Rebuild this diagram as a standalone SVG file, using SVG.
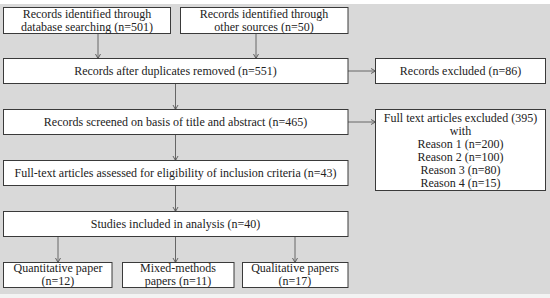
<svg xmlns="http://www.w3.org/2000/svg" width="550" height="298" viewBox="0 0 550 298">
<defs>
<marker id="ah" markerWidth="8" markerHeight="8" refX="5" refY="3" orient="auto" markerUnits="userSpaceOnUse">
<path d="M0.5,0.5 L5,3 L0.5,5.5" fill="none" stroke="#555" stroke-width="0.9"/>
</marker>
<style>
.box{fill:#fff;stroke:#3a3a3a;stroke-width:1}
.t{font-family:"Liberation Serif","Times New Roman",serif;font-size:12px;fill:#222;text-anchor:middle}
.c{stroke:#666;stroke-width:1;fill:none;marker-end:url(#ah)}
</style>
</defs>
<rect x="0" y="0" width="550" height="298" fill="#ffffff"/>
<rect x="0" y="294" width="550" height="4" fill="#f3f3f3"/>
<rect x="0" y="4" width="550" height="290" fill="#d9d9d9"/>

<g id="connectors">
<line class="c" x1="98" y1="33.5" x2="98" y2="58.5"/>
<line class="c" x1="256" y1="33.5" x2="256" y2="58.5"/>
<line class="c" x1="348" y1="71" x2="375.5" y2="71"/>
<line class="c" x1="175.5" y1="83.5" x2="175.5" y2="109.5"/>
<line class="c" x1="348" y1="122" x2="375.5" y2="122"/>
<line class="c" x1="175.5" y1="134.5" x2="175.5" y2="160.5"/>
<line class="c" x1="175.5" y1="185.5" x2="175.5" y2="211.5"/>
<line class="c" x1="58" y1="236.5" x2="58" y2="262.5"/>
<line class="c" x1="175.5" y1="236.5" x2="175.5" y2="262.5"/>
<line class="c" x1="295" y1="236.5" x2="295" y2="262.5"/>
</g>

<g id="db">
<rect class="box" x="3.5" y="7.5" width="167" height="26"/>
<text class="t" x="87" y="17.5">Records identified through</text>
<text class="t" x="87" y="30.5">database searching (n=501)</text>
</g>
<g id="other">
<rect class="box" x="180.5" y="7.5" width="167.5" height="26"/>
<text class="t" x="264" y="17.5">Records identified through</text>
<text class="t" x="264" y="30.5">other sources (n=50)</text>
</g>
<g id="dup">
<rect class="box" x="3.5" y="58.5" width="344.5" height="25"/>
<text class="t" x="175.5" y="75">Records after duplicates removed (n=551)</text>
</g>
<g id="excl1">
<rect class="box" x="375.5" y="58.5" width="170" height="25"/>
<text class="t" x="460.5" y="75">Records excluded (n=86)</text>
</g>
<g id="screen">
<rect class="box" x="3.5" y="109.5" width="344.5" height="25"/>
<text class="t" x="175.5" y="126">Records screened on basis of title and abstract (n=465)</text>
</g>
<g id="excl2">
<rect class="box" x="375.5" y="109.5" width="170" height="81"/>
<text class="t" x="460.5" y="122">Full text articles excluded (395)</text>
<text class="t" x="460.5" y="134.5">with</text>
<text class="t" x="460.5" y="147.5">Reason 1 (n=200)</text>
<text class="t" x="460.5" y="160.5">Reason 2 (n=100)</text>
<text class="t" x="460.5" y="173.5">Reason 3 (n=80)</text>
<text class="t" x="460.5" y="186.5">Reason 4 (n=15)</text>
</g>
<g id="assess">
<rect class="box" x="3.5" y="160.5" width="344.5" height="25"/>
<text class="t" x="175.5" y="177">Full-text articles assessed for eligibility of inclusion criteria (n=43)</text>
</g>
<g id="included">
<rect class="box" x="3.5" y="211.5" width="344.5" height="25"/>
<text class="t" x="175.5" y="228">Studies included in analysis (n=40)</text>
</g>
<g id="quant">
<rect class="box" x="3.5" y="262.5" width="108.5" height="25"/>
<text class="t" x="58" y="272">Quantitative paper</text>
<text class="t" x="58" y="285">(n=12)</text>
</g>
<g id="mixed">
<rect class="box" x="122.5" y="262.5" width="111.5" height="25"/>
<text class="t" x="178" y="272">Mixed-methods</text>
<text class="t" x="178" y="285">papers (n=11)</text>
</g>
<g id="qual">
<rect class="box" x="242.5" y="262.5" width="105.5" height="25"/>
<text class="t" x="295" y="272">Qualitative papers</text>
<text class="t" x="295" y="285">(n=17)</text>
</g>
</svg>
